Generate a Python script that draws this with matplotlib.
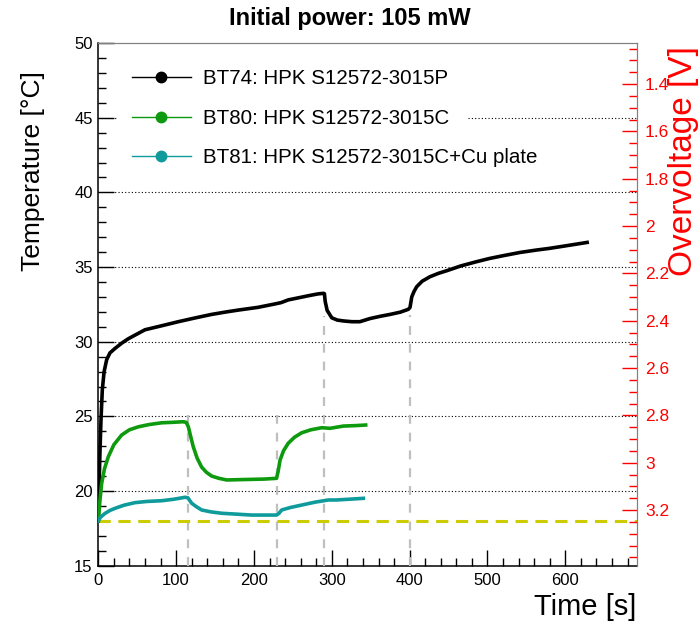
import matplotlib
matplotlib.use("Agg")
import matplotlib.pyplot as plt
from matplotlib.lines import Line2D
from matplotlib.patches import Rectangle
from matplotlib.ticker import MultipleLocator, FixedLocator, FormatStrFormatter

plt.rcParams['font.family'] = ['Liberation Sans', 'DejaVu Sans']

# BT74: HPK S12572-3015P
t_bt74 = [0, 1, 2.2, 3.5, 5.2, 7.5, 10.8, 15, 21.5, 30, 38.6, 60, 80, 102.8, 125, 145.7,
          165, 180, 205, 227, 235, 244, 258, 270, 282, 289, 290.5, 291.5, 294, 300, 307,
          315, 326, 336, 349, 362, 375, 388, 398.3, 400.5, 402.7, 405.5, 409, 416, 426,
          437, 448, 466, 486, 503, 520, 542, 563, 578, 593, 610, 628]
T_bt74 = [18.0, 20.3, 22.7, 24.8, 26.8, 28.0, 28.8, 29.25, 29.55, 29.9, 30.2, 30.8, 31.05,
          31.34, 31.6, 31.83, 32.0, 32.12, 32.3, 32.53, 32.62, 32.8, 32.95, 33.08, 33.2,
          33.24, 33.22, 32.7, 32.1, 31.6, 31.45, 31.39, 31.34, 31.34, 31.55, 31.7, 31.83,
          31.98, 32.17, 32.3, 33.0, 33.35, 33.68, 34.05, 34.35, 34.58, 34.76, 35.08, 35.36,
          35.58, 35.76, 35.98, 36.14, 36.24, 36.36, 36.5, 36.65]

# BT80: HPK S12572-3015C
t_bt80 = [0, 2, 4.3, 8, 12.9, 20, 30, 40, 51.4, 65, 81.5, 95, 109, 113, 115.7, 118.5, 122,
          127, 132.8, 139, 145.7, 155, 165, 180, 197, 213, 229, 231, 233.5, 238, 244, 252,
          261.3, 273, 287, 297.7, 314.8, 330, 343.5]
T_bt80 = [18.0, 19.3, 20.5, 21.5, 22.3, 23.1, 23.75, 24.1, 24.3, 24.45, 24.57, 24.6, 24.64,
          24.6, 24.3, 23.7, 22.97, 22.2, 21.6, 21.25, 21.0, 20.85, 20.74, 20.76, 20.78,
          20.8, 20.85, 21.3, 22.07, 22.7, 23.2, 23.6, 23.9, 24.1, 24.24, 24.2, 24.35,
          24.38, 24.42]

# BT81: HPK S12572-3015C+Cu plate
t_bt81 = [0, 3, 8.6, 15, 21.5, 33, 47, 62, 81.5, 97, 111.4, 115, 120, 126, 132.8, 145,
          158.5, 178, 197, 213, 229, 232, 235.6, 247, 261.3, 278, 295.5, 306, 322, 340.5]
T_bt81 = [18.0, 18.25, 18.5, 18.7, 18.84, 19.05, 19.22, 19.3, 19.35, 19.45, 19.58, 19.55,
          19.18, 18.95, 18.73, 18.6, 18.51, 18.45, 18.39, 18.39, 18.39, 18.5, 18.73, 18.9,
          19.06, 19.25, 19.4, 19.4, 19.45, 19.51]

labels = ["BT74: HPK S12572-3015P", "BT80: HPK S12572-3015C", "BT81: HPK S12572-3015C+Cu plate"]
colors = ["black", "#0e9a0e", "#0f9b9b"]

# power steps (time, top of marker line) and initial temperature
t_steps = [115.7, 230, 290.4, 400.5]
T_step_top = [25.1, 25.1, 31.75, 31.8]
T_initial = 18.0

t_range = (0, 691.7)
T_range = (15, 50)
V_range = (3.435, 1.227)
V_ticks = [1.4, 1.6, 1.8, 2.0, 2.2, 2.4, 2.6, 2.8, 3.0, 3.2]

fig = plt.figure(figsize=(7, 6.3), dpi=100)
ax = fig.add_axes([0.1404, 0.1021, 0.7692, 0.8295])
ax.set_xlim(*t_range)
ax.set_ylim(*T_range)

ax.xaxis.set_major_locator(MultipleLocator(100))
ax.xaxis.set_minor_locator(MultipleLocator(20))
ax.yaxis.set_major_locator(MultipleLocator(5))
ax.yaxis.set_minor_locator(MultipleLocator(1))
ax.tick_params(which='both', direction='in', top=False, right=False, labelsize=12,
               colors='black', pad=4)
ax.tick_params(which='major', length=11.5, width=1)
ax.tick_params(which='minor', length=5.8, width=1)
ax.tick_params(axis='x', pad=5)
for s in ['top', 'right']:
    ax.spines[s].set_color('#808080')
ax.spines['left'].set_linewidth(1.1)
ax.spines['bottom'].set_linewidth(1.1)

for yv in range(20, 50, 5):
    ax.axhline(yv, color='black', lw=0.8, ls=(0, (1, 2)), zorder=1)

# white legend area hides part of grid
ax.add_patch(Rectangle((0.0366, 0.738), 0.648, 0.249, transform=ax.transAxes,
                       facecolor='white', edgecolor='none', zorder=2))

for ts, tt in zip(t_steps, T_step_top):
    ax.plot([ts, ts], [T_range[0], tt], color='#bfbfbf', lw=1.6, ls=(0, (4, 4)), zorder=3)
ax.axhline(T_initial, color='#cccc00', lw=2.2, ls=(0, (4, 2.5)), zorder=3)

ax.plot(t_bt74, T_bt74, color=colors[0], lw=2.6, zorder=5)
ax.plot(t_bt80, T_bt80, color=colors[1], lw=2.6, zorder=5)
ax.plot(t_bt81, T_bt81, color=colors[2], lw=2.6, zorder=5)

handles = [Line2D([], [], color=c, lw=1, marker='o', markersize=7.5) for c in colors]
ax.legend(handles, labels, loc='upper left', bbox_to_anchor=(0.062, 0.95),
          frameon=False, fontsize=14.8, handlelength=2.9, handletextpad=0.58,
          labelspacing=1.0, borderpad=0, borderaxespad=0)

ax2 = ax.twinx()
ax2.set_ylim(*V_range)
ax2.yaxis.set_major_locator(FixedLocator(V_ticks))
ax2.yaxis.set_minor_locator(MultipleLocator(0.05))
ax2.yaxis.set_major_formatter(FormatStrFormatter('%g'))
ax2.tick_params(which='both', direction='in', colors='red', labelsize=12.5, pad=6)
ax2.tick_params(which='major', length=11, width=1)
ax2.tick_params(which='minor', length=5.5, width=1)
for s in ['top', 'right']:
    ax2.spines[s].set_color('#808080')
ax2.spines['left'].set_visible(False)
ax2.spines['bottom'].set_visible(False)

fig.text(0.5, 0.97, "Initial power: 105 mW", ha='center', va='center',
         fontsize=17, fontweight='bold')
fig.text(0.047, 0.729, "Temperature [\u00b0C]", rotation=90, ha='center', va='center',
         fontsize=19)
fig.text(0.9096, 0.036, "Time [s]", ha='right', va='center', fontsize=21)
fig.text(0.976, 0.744, "Overvoltage [V]", rotation=90, ha='center', va='center',
         fontsize=24, color='red')

fig.savefig("out.png", dpi=100)
